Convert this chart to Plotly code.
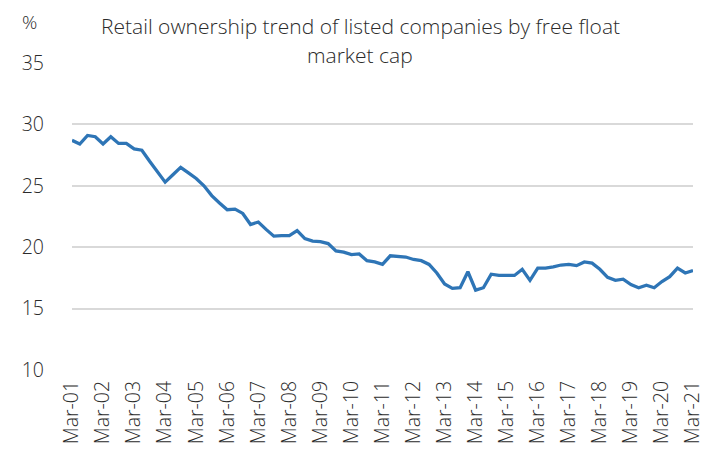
import plotly.graph_objects as go

# Quarterly retail ownership share (%), Mar-01 .. Mar-21
quarters = [f"{m}-{y:02d}" for y in range(1, 22) for m in ("Mar", "Jun", "Sep", "Dec")][:81]
retail_pct = [
    28.7, 28.4, 29.1, 29.0, 28.4, 29.0, 28.45, 28.45, 28.0, 27.9,
    27.0, 26.1, 25.3, 25.9, 26.5, 26.05, 25.6, 25.0, 24.2, 23.6,
    23.05, 23.1, 22.75, 21.85, 22.05, 21.45, 20.9, 20.95, 20.95, 21.35,
    20.7, 20.5, 20.45, 20.3, 19.7, 19.6, 19.4, 19.45, 18.9, 18.8,
    18.6, 19.3, 19.25, 19.2, 19.0, 18.9, 18.6, 17.9, 17.0, 16.65,
    16.7, 18.0, 16.5, 16.7, 17.8, 17.7, 17.7, 17.7, 18.2, 17.3,
    18.3, 18.3, 18.4, 18.55, 18.6, 18.5, 18.8, 18.7, 18.2, 17.55,
    17.3, 17.4, 16.95, 16.7, 16.9, 16.7, 17.2, 17.6, 18.3, 17.9,
    18.1,
]
tick_labels = [f"Mar-{y:02d}" for y in range(1, 22)]
y_ticks = [10, 15, 20, 25, 30, 35]
title_lines = ["Retail ownership trend of listed companies by free float", "market cap"]

x_idx = list(range(len(retail_pct)))
tick_pos = [i * 4 for i in range(len(tick_labels))]

FONT = "'Open Sans', Lato, sans-serif"
TEXT = "#2B2B2B"

fig = go.Figure(
    go.Scatter(
        x=x_idx,
        y=retail_pct,
        mode="lines",
        line=dict(color="#2E75B6", width=3.3),
        customdata=quarters[: len(retail_pct)],
        hovertemplate="%{customdata}: %{y:.1f}%<extra></extra>",
    )
)

tick_font = dict(family=FONT, size=19.5, color=TEXT, weight=300)

annotations = [
    dict(
        text="%",
        xref="paper", yref="paper",
        x=-0.084, y=1.134,
        xanchor="left", yanchor="middle",
        showarrow=False,
        font=dict(family=FONT, size=19, color=TEXT, weight=300),
    )
]
# two-line title, placed line by line
for line, ypos in zip(title_lines, [1.12, 1.026]):
    annotations.append(
        dict(
            text=line,
            xref="paper", yref="paper",
            x=0.464, y=ypos,
            xanchor="center", yanchor="middle",
            showarrow=False,
            font=dict(family=FONT, size=21, color=TEXT, weight=300),
        )
    )

fig.update_layout(
    width=718,
    height=452,
    margin=dict(l=72, r=25, t=63, b=82),
    plot_bgcolor="white",
    paper_bgcolor="white",
    showlegend=False,
    font=tick_font,
    annotations=annotations,
)

fig.update_xaxes(
    range=[0, len(retail_pct) - 1],
    tickmode="array",
    tickvals=tick_pos,
    ticktext=tick_labels,
    tickangle=-90,
    showgrid=False,
    showline=False,
    zeroline=False,
    ticks="",
    automargin=False,
    ticklabelstandoff=6,
    tickfont=tick_font,
)

fig.update_yaxes(
    range=[10, 35],
    tickmode="array",
    tickvals=y_ticks,
    showgrid=True,
    gridcolor="#D9D9D9",
    gridwidth=1.6,
    zeroline=False,
    showline=False,
    ticks="",
    automargin=False,
    ticklabelstandoff=27,
    tickfont=tick_font,
)

fig.write_html("out.html")
